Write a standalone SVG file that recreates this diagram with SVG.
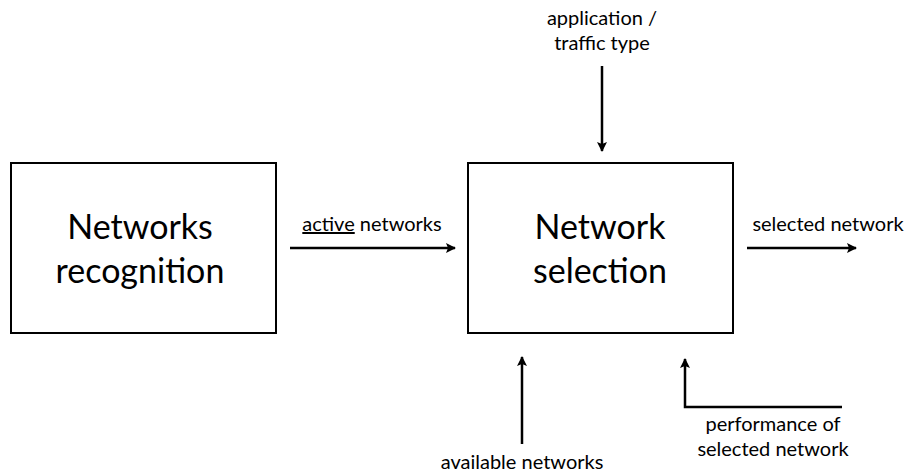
<svg xmlns="http://www.w3.org/2000/svg" width="909" height="475" viewBox="0 0 909 475">
<style>
.box{fill:#fff;stroke:#000;stroke-width:2}
.big{font-family:Lato,"Liberation Sans",sans-serif;font-size:34px;fill:#000;text-anchor:middle}
.lbl{font-family:Lato,"Liberation Sans",sans-serif;font-size:20px;fill:#000;text-anchor:middle}
.con{fill:none;stroke:#000;stroke-width:2.5}
</style>
<defs>
<marker id="ah" viewBox="0 0 10 10" refX="9" refY="5" markerWidth="4" markerHeight="4" orient="auto" markerUnits="strokeWidth">
<path d="M0,0 L10,5 L0,10 L2,5 z" fill="#000"/>
</marker>
</defs>
<rect width="909" height="475" fill="#fff"/>
<g id="node-recognition">
<rect class="box" x="11" y="163" width="265" height="170"/>
<text class="big" x="140" y="239">Networks</text>
<text class="big" x="140" y="283">recognition</text>
</g>
<g id="node-selection">
<rect class="box" x="468" y="163" width="265" height="170"/>
<text class="big" x="600" y="239">Network</text>
<text class="big" x="600" y="283">selection</text>
</g>
<g id="connectors">
<line class="con" x1="290" y1="248" x2="455" y2="248" marker-end="url(#ah)"/>
<line class="con" x1="602" y1="66" x2="602" y2="151" marker-end="url(#ah)"/>
<line class="con" x1="747" y1="248" x2="856" y2="248" marker-end="url(#ah)"/>
<line class="con" x1="522" y1="444" x2="522" y2="357" marker-end="url(#ah)"/>
<polyline class="con" points="842,407 685,407 685,359" marker-end="url(#ah)"/>
</g>
<g id="labels">
<text class="lbl" x="372" y="231"><tspan text-decoration="underline">active</tspan> networks</text>
<text class="lbl" x="602" y="25">application /</text>
<text class="lbl" x="602" y="50">traffic type</text>
<text class="lbl" x="828" y="231">selected network</text>
<text class="lbl" x="522" y="469">available networks</text>
<text class="lbl" x="773" y="431">performance of</text>
<text class="lbl" x="773" y="456">selected network</text>
</g>
</svg>
